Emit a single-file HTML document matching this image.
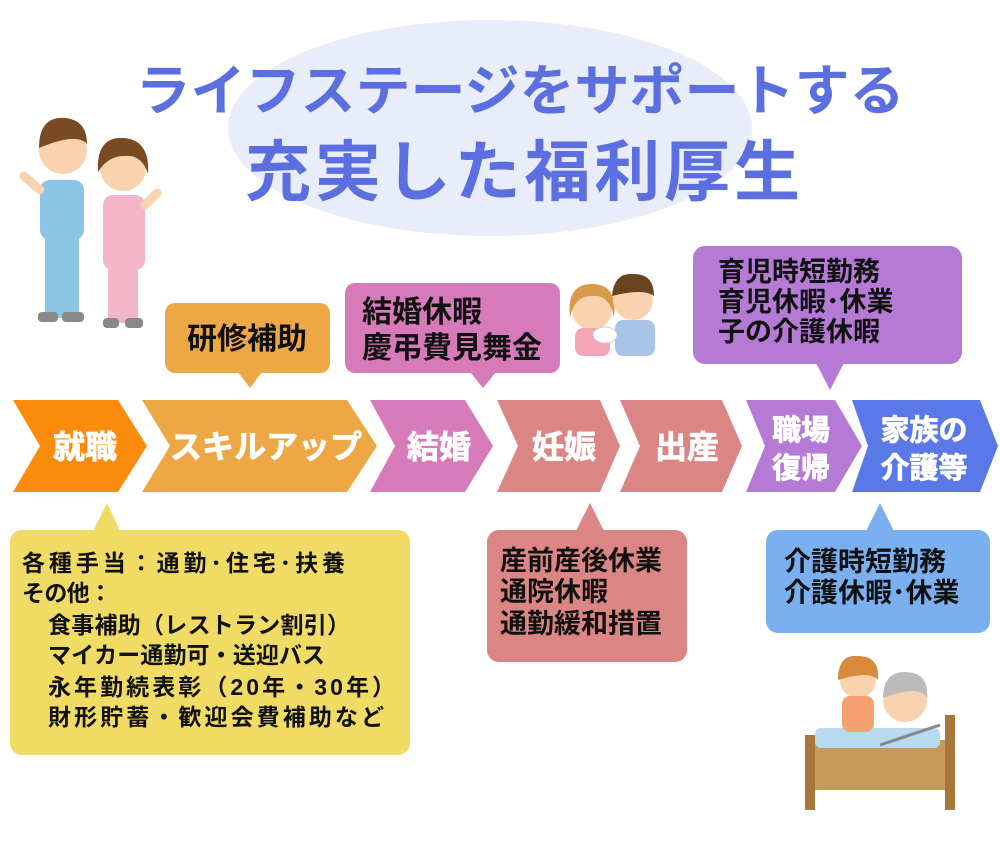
<!DOCTYPE html>
<html><head><meta charset="utf-8"><style>
body{margin:0;background:#fff;}
svg text{font-family:"Liberation Sans","Noto Sans CJK JP",sans-serif;font-weight:bold;}
</style></head><body>
<svg width="1000" height="850" viewBox="0 0 1000 850" xmlns="http://www.w3.org/2000/svg">
<ellipse cx="490" cy="128" rx="262" ry="108" fill="#e9edfa"/>
<text x="520" y="110" font-size="55" fill="#5b6fe0" text-anchor="middle">ライフステージをサポートする</text>
<text x="245" y="195" font-size="66" fill="#5b6fe0" textLength="555" lengthAdjust="spacing">充実した福利厚生</text>

<!-- nurses -->
<g>
<circle cx="63" cy="150" r="24" fill="#f9d2b0"/><path d="M39 148 q0-32 26-30 q22 2 22 26 q-10-12-48 4z" fill="#7a4a22"/>
<rect x="40" y="180" width="44" height="60" rx="10" fill="#8bc4e6"/><rect x="45" y="238" width="34" height="80" fill="#8bc4e6"/>
<rect x="38" y="312" width="20" height="10" rx="4" fill="#888"/><rect x="62" y="312" width="22" height="10" rx="4" fill="#888"/>
<path d="M40 190 l-16 -14" stroke="#f9d2b0" stroke-width="9" stroke-linecap="round"/>
<circle cx="123" cy="168" r="23" fill="#f9d2b0"/><path d="M98 172 q-2-36 26-34 q26 2 24 36 q-6-20-24-18 q-16 0-26 16z" fill="#7a4a22"/>
<rect x="103" y="195" width="42" height="75" rx="10" fill="#f5b5c8"/><rect x="108" y="268" width="30" height="55" fill="#f5b5c8"/>
<rect x="103" y="318" width="16" height="10" rx="4" fill="#888"/><rect x="125" y="318" width="18" height="10" rx="4" fill="#888"/>
<path d="M145 205 l12 -12" stroke="#f9d2b0" stroke-width="9" stroke-linecap="round"/>
</g>

<!-- couple -->
<g>
<circle cx="592" cy="310" r="20" fill="#f9d2b0"/><path d="M570 318 q-4-34 22-34 q26 0 22 34 q-4-24-22-22 q-18 0-22 22z" fill="#d89a4a"/>
<rect x="575" y="328" width="35" height="28" rx="8" fill="#f5a5b8"/>
<circle cx="633" cy="300" r="20" fill="#f9d2b0"/><path d="M612 296 q2-24 22-22 q20 0 20 22 q-10-8-42 0z" fill="#6a4420"/>
<rect x="615" y="320" width="40" height="36" rx="8" fill="#a8c4e6"/>
<ellipse cx="605" cy="335" rx="12" ry="8" fill="#fff" stroke="#ccc"/>
</g>

<!-- chevrons -->
<polygon points="13,400 118,400 147,446 118,492 13,492 40,446" fill="#fb8c0b"/>
<polygon points="142,400 347,400 377,446 347,492 142,492 170,446" fill="#eda845"/>
<polygon points="370,400 465,400 493,446 465,492 370,492 395,446" fill="#d67aba"/>
<polygon points="497,400 600,400 620,446 600,492 497,492 518,446" fill="#db8585"/>
<polygon points="620,400 722,400 742,446 722,492 620,492 640,446" fill="#db8585"/>
<polygon points="746,400 835,400 862,446 835,492 746,492 765,446" fill="#b57ad6"/>
<polygon points="852,400 980,400 998,446 980,492 852,492 868,446" fill="#5b78e8"/>
<g font-size="32" fill="#fff" text-anchor="middle" stroke="#fff" stroke-width="0.8">
<text x="85" y="458">就職</text>
<text x="266" y="458">スキルアップ</text>
<text x="439" y="458">結婚</text>
<text x="564" y="458">妊娠</text>
<text x="687" y="458">出産</text>
<text x="801" y="440" font-size="29">職場</text><text x="801" y="478" font-size="29">復帰</text>
<text x="924" y="440" font-size="29">家族の</text><text x="924" y="478" font-size="29">介護等</text>
</g>

<!-- callouts -->
<rect x="165" y="303" width="165" height="70" rx="10" fill="#eda845"/><polygon points="238,372 262,372 250,388" fill="#eda845"/>
<text x="247" y="349" font-size="30" fill="#111" text-anchor="middle">研修補助</text>
<rect x="345" y="283" width="215" height="90" rx="10" fill="#d67aba"/><polygon points="470,372 496,372 483,388" fill="#d67aba"/>
<text x="362" y="322" font-size="30" fill="#111">結婚休暇</text><text x="362" y="358" font-size="30" fill="#111">慶弔費見舞金</text>
<rect x="693" y="246" width="269" height="118" rx="12" fill="#b57ad6"/><polygon points="816,363 844,363 830,390" fill="#b57ad6"/>
<g font-size="27" fill="#111"><text x="718" y="281">育児時短勤務</text><text x="718" y="311">育児休暇･休業</text><text x="718" y="341">子の介護休暇</text></g>

<rect x="10" y="530" width="400" height="225" rx="12" fill="#f0dc64"/><polygon points="93,531 120,531 107,503" fill="#f0dc64"/>
<g font-size="23" fill="#111" lengthAdjust="spacing">
<text x="22" y="571" textLength="323">各種手当：通勤･住宅･扶養</text><text x="22" y="601" textLength="90">その他：</text>
<text x="48" y="633" textLength="302">食事補助（レストラン割引）</text><text x="48" y="663" textLength="277">マイカー通勤可・送迎バス</text>
<text x="48" y="695" textLength="347">永年勤続表彰（20年・30年）</text><text x="48" y="725" textLength="336">財形貯蓄・歓迎会費補助など</text></g>

<rect x="487" y="530" width="200" height="132" rx="12" fill="#db8585"/><polygon points="576,531 604,531 590,503" fill="#db8585"/>
<g font-size="27" fill="#111"><text x="500" y="570">産前産後休業</text><text x="500" y="601">通院休暇</text><text x="500" y="633">通勤緩和措置</text></g>

<rect x="766" y="530" width="224" height="103" rx="12" fill="#7ab0f0"/><polygon points="866,531 894,531 880,503" fill="#7ab0f0"/>
<g font-size="27" fill="#111"><text x="784" y="571">介護時短勤務</text><text x="784" y="602">介護休暇･休業</text></g>

<!-- bed scene -->
<g>
<rect x="805" y="740" width="145" height="50" fill="#c89a5a"/>
<rect x="805" y="735" width="10" height="75" fill="#a8783a"/><rect x="945" y="715" width="10" height="95" fill="#a8783a"/>
<rect x="815" y="728" width="125" height="20" rx="6" fill="#b8daf0"/>
<circle cx="905" cy="700" r="22" fill="#f9d2b0"/><path d="M883 698 q0-26 22-26 q24 0 22 26 q-8-14-44 0z" fill="#bbb"/>
<circle cx="858" cy="680" r="18" fill="#f9d2b0"/><path d="M838 680 q0-26 20-24 q22 0 20 24 q-8-10-40 0z" fill="#d88a3a"/>
<rect x="842" y="696" width="32" height="36" rx="8" fill="#f5a070"/>
<path d="M880 745 l60 -20" stroke="#888" stroke-width="3"/>
</g>
</svg>
</body></html>
